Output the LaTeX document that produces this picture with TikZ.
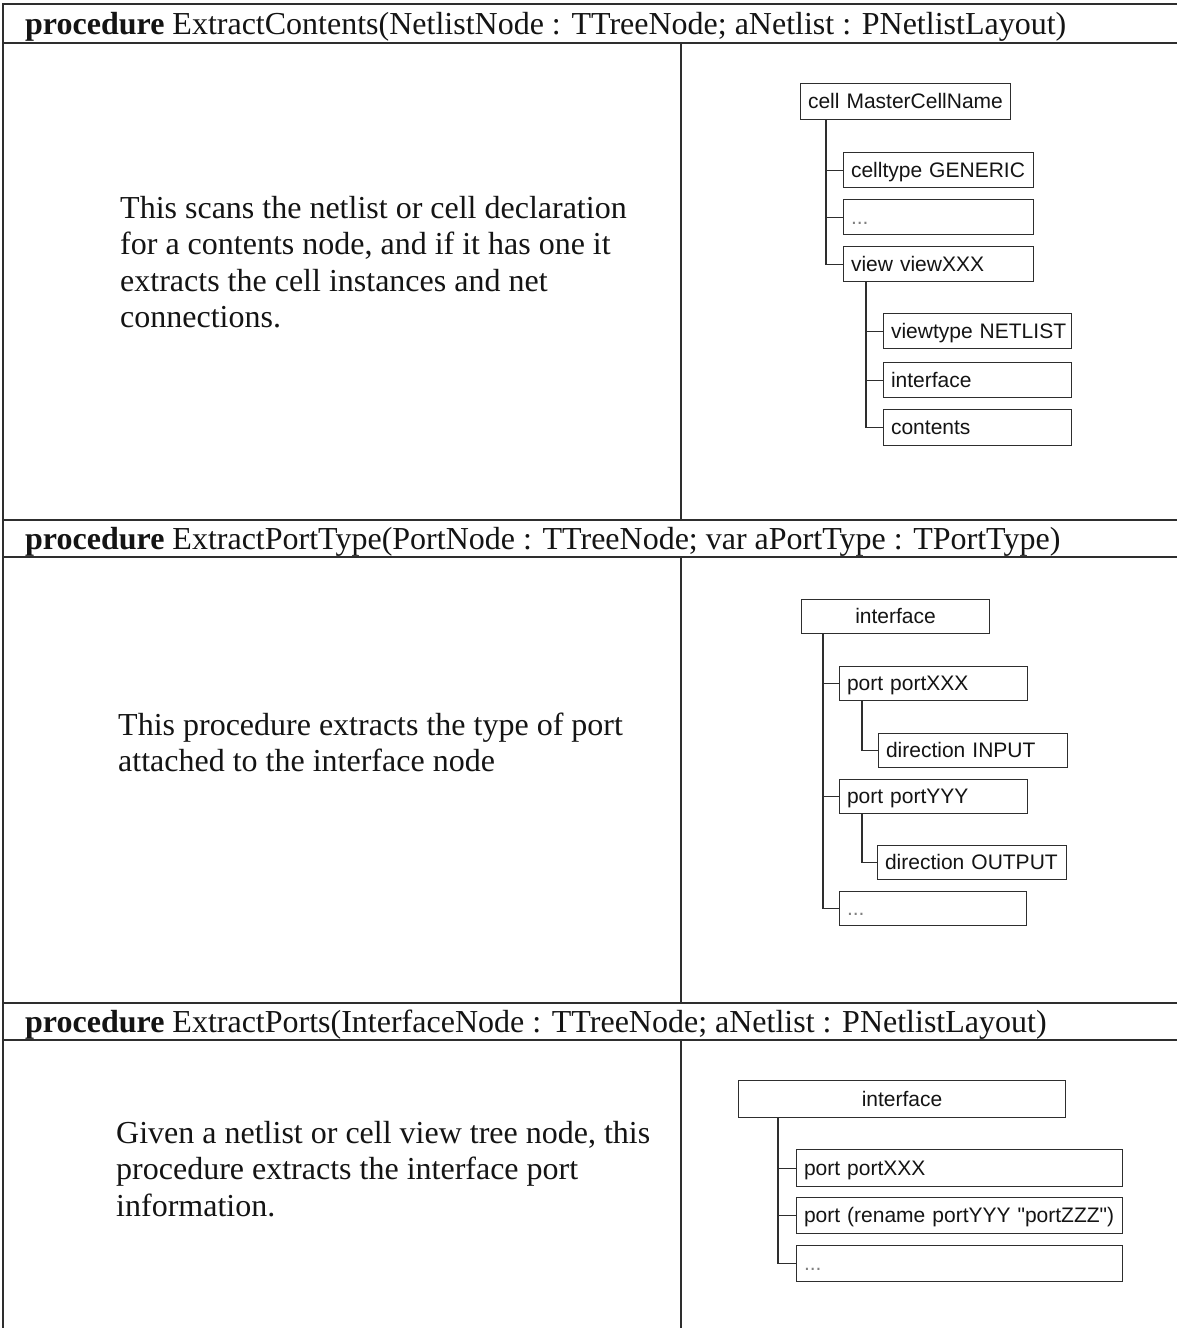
\documentclass[tikz,border=0pt]{standalone}
\usepackage{fontspec}
\setmainfont{Liberation Serif}
\newfontfamily\boxfont{Liberation Sans}
\usetikzlibrary{calc}

\definecolor{rule}{gray}{0.18}
\definecolor{ink}{gray}{0.08}

\tikzset{
  grid/.style={draw=rule, line width=1.6pt},
  head/.style={anchor=base west, inner sep=0pt, text=ink,
    font=\fontsize{32}{36}\selectfont},
  % multi-line text: the base anchor sits on the last line
  para/.style={anchor=base west, inner sep=0pt, align=left, text=ink,
    font=\fontsize{32}{36.3}\selectfont},
  tbox/.style={draw=rule, line width=1.1pt, anchor=north west,
    inner xsep=5pt, inner ysep=0pt, align=left, text=ink,
    text height=14.5pt, text depth=0pt,
    font=\boxfont\fontsize{21}{24}\selectfont},
  tline/.style={draw=rule, line width=1.1pt},
}

% a box of given width (#1) and height (#2), text flush left
\tikzset{wh/.style 2 args={minimum width=#1pt, text width=#1pt-10pt, minimum height=#2pt,
  execute at begin node={\hspace*{2.5pt}}}}
% same, text centred
\tikzset{whc/.style 2 args={minimum width=#1pt, text width=#1pt-10pt, minimum height=#2pt, align=center}}

\newcommand{\dotsgray}{\textcolor{gray}{...}}

\begin{document}
\begin{tikzpicture}[x=1pt, y=-1pt]
  \useasboundingbox[fill=white] (0,0) rectangle (1177,1328);

  % ---------- table frame ----------
  \draw[grid] (1177,4) -- (3,4) -- (3,1328);
  \draw[grid] (3,43) -- (1177,43);
  \draw[grid] (3,520) -- (1177,520);
  \draw[grid] (3,557) -- (1177,557);
  \draw[grid] (3,1003) -- (1177,1003);
  \draw[grid] (3,1040) -- (1177,1040);
  \draw[grid] (681,43) -- (681,520);
  \draw[grid] (681,557) -- (681,1003);
  \draw[grid] (681,1040) -- (681,1328);

  % ---------- headings ----------
  \node[head] (h1) at (25,34) {\textbf{procedure} ExtractContents(NetlistNode : TTreeNode; aNetlist : PNetlistLayout)};
  \node[head] (h2) at (25,549) {\textbf{procedure} ExtractPortType(PortNode : TTreeNode; var aPortType : TPortType)};
  \node[head] (h3) at (25,1032) {\textbf{procedure} ExtractPorts(InterfaceNode : TTreeNode; aNetlist : PNetlistLayout)};

  % ---------- descriptions ----------
  \node[para] (d1) at (120,327.5) {This scans the netlist or cell declaration\\
    for a contents node, and if it has one it\\
    extracts the cell instances and net\\
    connections.};
  \node[para] (d2) at (118,771.5) {This procedure extracts the type of port\\
    attached to the interface node};
  \node[para] (d3) at (116,1216) {Given a netlist or cell view tree node, this\\
    procedure extracts the interface port\\
    information.};

  % ---------- tree: cell ----------
  \node[tbox, wh={210}{36}] (cell) at (800,83) {cell MasterCellName};
  \node[tbox, wh={190}{35}] (ctype) at (843,152) {celltype GENERIC};
  \node[tbox, wh={190}{35}] (cdots) at (843,199) {\dotsgray};
  \node[tbox, wh={190}{35}] (view) at (843,246) {view viewXXX};
  \node[tbox, wh={188}{35}] (vtype) at (883,313) {viewtype NETLIST};
  \node[tbox, wh={188}{35}] (viface) at (883,362) {interface};
  \node[tbox, wh={188}{36}] (vcont) at (883,409) {contents};

  \draw[tline] ([xshift=26pt]cell.south west) |- (ctype.west);
  \draw[tline] ([xshift=26pt]cell.south west) |- (cdots.west);
  \draw[tline] ([xshift=26pt]cell.south west) |- (view.west);
  \draw[tline] ([xshift=23pt]view.south west) |- (vtype.west);
  \draw[tline] ([xshift=23pt]view.south west) |- (viface.west);
  \draw[tline] ([xshift=23pt]view.south west) |- (vcont.west);

  % ---------- tree: port types ----------
  \node[tbox, whc={188}{34}] (iface) at (801,599) {interface};
  \node[tbox, wh={188}{34}] (px) at (839,666) {port portXXX};
  \node[tbox, wh={189}{34}] (din) at (878,733) {direction INPUT};
  \node[tbox, wh={188}{34}] (py) at (839,779) {port portYYY};
  \node[tbox, wh={189}{34}] (dout) at (877,845) {direction OUTPUT};
  \node[tbox, wh={187}{34}] (pdots) at (839,891) {\dotsgray};

  \draw[tline] ([xshift=22pt]iface.south west) |- (px.west);
  \draw[tline] ([xshift=22pt]iface.south west) |- (py.west);
  \draw[tline] ([xshift=22pt]iface.south west) |- (pdots.west);
  \draw[tline] ([xshift=23pt]px.south west) |- (din.west);
  \draw[tline] ([xshift=23pt]py.south west) |- (dout.west);

  % ---------- tree: ports ----------
  \node[tbox, whc={327}{37}] (iface3) at (738,1080) {interface};
  \node[tbox, wh={326}{37}] (qx) at (796,1149) {port portXXX};
  \node[tbox, wh={326}{36}] (qren) at (796,1197) {port (rename portYYY "portZZZ")};
  \node[tbox, wh={326}{36}] (qdots) at (796,1245) {\dotsgray};

  \draw[tline] ([xshift=40pt]iface3.south west) |- (qx.west);
  \draw[tline] ([xshift=40pt]iface3.south west) |- (qren.west);
  \draw[tline] ([xshift=40pt]iface3.south west) |- (qdots.west);
\end{tikzpicture}
\end{document}
